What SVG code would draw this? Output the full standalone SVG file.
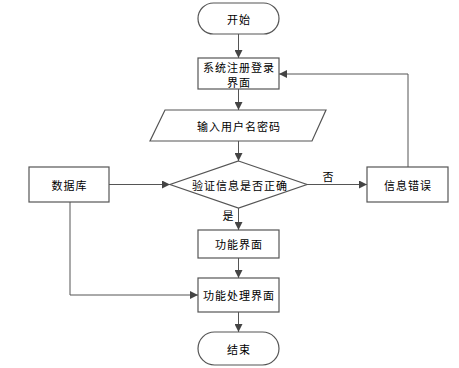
<svg xmlns="http://www.w3.org/2000/svg" width="459" height="368" viewBox="0 0 459 368">
<defs>
<marker id="arr" viewBox="0 0 10 10" refX="10" refY="5" markerWidth="8" markerHeight="8" markerUnits="userSpaceOnUse" orient="auto">
<path d="M0,0 L10,5 L0,10 z" fill="#444"/>
</marker>
<style>
.s{fill:#fff;stroke:#555;stroke-width:1.2}
.t{font-family:"Noto Sans CJK SC","Noto Sans",sans-serif;font-size:11px;letter-spacing:1px;fill:#000;text-anchor:middle;dominant-baseline:central}
.c{fill:none;stroke:#555;stroke-width:1;marker-end:url(#arr)}
.l{fill:none;stroke:#555;stroke-width:1}
</style>
</defs>
<rect width="459" height="368" fill="#fff"/>
<g id="connectors">
<path class="c" d="M238.5,33 V58"/>
<path class="c" d="M238.5,89 V110"/>
<path class="c" d="M238.5,141 V161"/>
<path class="c" d="M238.5,208 V230"/>
<path class="c" d="M238.5,258 V278"/>
<path class="c" d="M238.5,312 V332"/>
<path class="c" d="M109,184.5 H170"/>
<path class="c" d="M307,184.5 H367"/>
<path class="c" d="M408,167 V74 H279"/>
<path class="c" d="M70,202 V295 H198"/>
<text class="t" x="328.5" y="176">否</text>
<text class="t" x="228.5" y="215">是</text>
</g>
<g id="start">
<rect class="s" x="198" y="3" width="81" height="31" rx="15.5"/>
<text class="t" x="239" y="18.5">开始</text>
</g>
<g id="register">
<rect class="s" x="198" y="58" width="81" height="31"/>
<text class="t" x="239" y="67">系统注册登录</text>
<text class="t" x="239" y="82">界面</text>
</g>
<g id="input">
<polygon class="s" points="165,110 326,110 312,141 150,141"/>
<text class="t" x="239" y="125.5">输入用户名密码</text>
</g>
<g id="verify">
<polygon class="s" points="238.5,161 307,184.5 238.5,208 170,184.5"/>
<text class="t" x="240" y="184.5">验证信息是否正确</text>
</g>
<g id="database">
<rect class="s" x="29" y="167" width="80" height="35"/>
<text class="t" x="69.5" y="184.5">数据库</text>
</g>
<g id="error">
<rect class="s" x="367" y="167" width="81" height="35"/>
<text class="t" x="408" y="184.5">信息错误</text>
</g>
<g id="func">
<rect class="s" x="198" y="230" width="81" height="28"/>
<text class="t" x="239" y="244">功能界面</text>
</g>
<g id="funcproc">
<rect class="s" x="198" y="278" width="81" height="34"/>
<text class="t" x="239" y="295">功能处理界面</text>
</g>
<g id="end">
<rect class="s" x="198" y="332" width="81" height="33" rx="16.5"/>
<text class="t" x="239" y="348.5">结束</text>
</g>
</svg>
